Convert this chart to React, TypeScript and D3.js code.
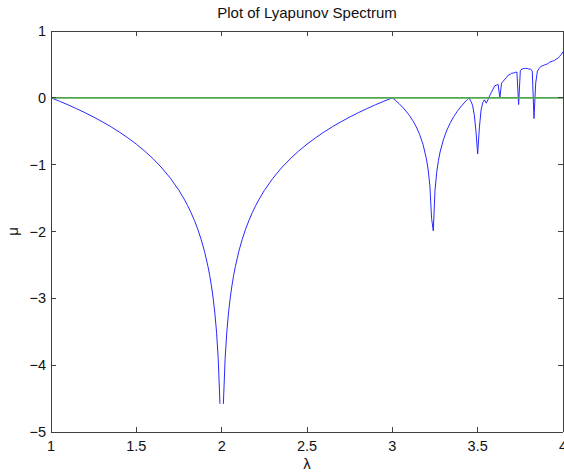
import React, { useEffect } from "react";
import * as d3 from "d3";

// λ sample positions and μ (Lyapunov exponent) values
const lambdaValues: number[] = [
  1.0, 1.05, 1.1, 1.15, 1.2, 1.25, 1.3, 1.35, 1.4, 1.45, 1.5, 1.55, 1.6, 1.65, 1.7, 1.75, 1.78, 1.8, 1.82, 1.84,
  1.86, 1.88, 1.9, 1.92, 1.93, 1.94, 1.95, 1.96, 1.97, 1.98, 1.99, 2.0, 2.01, 2.02, 2.03, 2.04, 2.05, 2.06, 2.07, 2.08,
  2.1, 2.12, 2.14, 2.16, 2.18, 2.2, 2.22, 2.25, 2.3, 2.35, 2.4, 2.45, 2.5, 2.55, 2.6, 2.65, 2.7, 2.75, 2.8, 2.85,
  2.9, 2.95, 3.0, 3.02, 3.04, 3.06, 3.08, 3.1, 3.12, 3.14, 3.16, 3.18, 3.2, 3.21, 3.22, 3.23, 3.24, 3.25, 3.26, 3.27,
  3.28, 3.3, 3.32, 3.34, 3.36, 3.38, 3.4, 3.42, 3.44, 3.45, 3.46, 3.47, 3.48, 3.49, 3.5, 3.51, 3.52, 3.53, 3.54, 3.55,
  3.56, 3.57, 3.58, 3.59, 3.6, 3.61, 3.62, 3.63, 3.64, 3.65, 3.66, 3.67, 3.68, 3.69, 3.7, 3.71, 3.72, 3.73, 3.74, 3.75,
  3.76, 3.77, 3.78, 3.79, 3.8, 3.81, 3.82, 3.83, 3.84, 3.85, 3.86, 3.87, 3.88, 3.89, 3.9, 3.91, 3.92, 3.93, 3.94, 3.95,
  3.96, 3.97, 3.98, 3.99, 4.0,
];

const muValues: (number | null)[] = [
  0, -0.051, -0.105, -0.163, -0.223, -0.288, -0.357, -0.431, -0.511, -0.598, -0.693, -0.799, -0.916, -1.05, -1.204, -1.386, -1.514, -1.609, -1.715, -1.833,
  -1.966, -2.12, -2.303, -2.526, -2.659, -2.813, -2.996, -3.219, -3.507, -3.912, -4.58, null, -4.58, -3.912, -3.507, -3.219, -2.996, -2.813, -2.659, -2.526,
  -2.303, -2.12, -1.966, -1.833, -1.715, -1.609, -1.514, -1.386, -1.204, -1.05, -0.916, -0.799, -0.693, -0.598, -0.511, -0.431, -0.357, -0.288, -0.223, -0.163,
  -0.105, -0.051, 0, -0.042, -0.088, -0.14, -0.198, -0.264, -0.341, -0.433, -0.548, -0.698, -0.916, -1.078, -1.318, -1.804, -1.99, -1.386, -1.115, -0.939,
  -0.809, -0.619, -0.481, -0.372, -0.281, -0.204, -0.137, -0.078, -0.024, 0.0, -0.05, -0.11, -0.25, -0.5, -0.84, -0.45, -0.18, -0.07, -0.03, -0.08,
  -0.03, 0.03, 0.08, 0.13, 0.18, 0.19, 0.2, 0.0, 0.22, 0.25, 0.28, 0.31, 0.34, 0.35, 0.37, 0.37, 0.38, 0.385, -0.1, 0.41,
  0.43, 0.44, 0.44, 0.44, 0.43, 0.43, 0.4, -0.31, 0.22, 0.4, 0.44, 0.47, 0.48, 0.49, 0.5, 0.51, 0.53, 0.54, 0.55, 0.56,
  0.58, 0.59, 0.62, 0.65, 0.69,
];

// reference line μ = 0
const zeroLambda: number[] = [1, 4];
const zeroMu: number[] = [0, 0];

const xTicks: number[] = [1, 1.5, 2, 2.5, 3, 3.5, 4];
const xTickLabels: string[] = ["1", "1.5", "2", "2.5", "3", "3.5", "4"];
const yTicks: number[] = [1, 0, -1, -2, -3, -4, -5];
const yTickLabels: string[] = ["1", "0", "\u22121", "\u22122", "\u22123", "\u22124", "\u22125"];

const titleText = "Plot of Lyapunov Spectrum";
const xLabel = "\u03bb";
const yLabel = "\u03bc";

export default function App() {
  useEffect(() => {
    document.body.style.margin = "0";
  }, []);

  const W = 564;
  const H = 472;
  const left = 51;
  const right = 563;
  const top = 31;
  const bottom = 432;

  const x = d3.scaleLinear().domain([1, 4]).range([left, right]);
  const y = d3.scaleLinear().domain([-5, 1]).range([bottom, top]);

  type P = [number, number | null];
  const pts: P[] = lambdaValues.map((l, i) => [l, muValues[i]]);
  const line = d3
    .line<P>()
    .defined((d) => d[1] !== null)
    .x((d) => x(d[0]))
    .y((d) => y(d[1] as number));
  const zeroPts: P[] = zeroLambda.map((l, i) => [l, zeroMu[i]]);

  const font = "'Liberation Sans', Arial, Helvetica, sans-serif";
  const axisColor = "#404040";
  const tickLen = 5;

  return (
    <svg
      width={W}
      height={H}
      style={{ display: "block", position: "absolute", left: 0, top: 0, background: "#fff" }}
    >
      <rect x={0} y={0} width={W} height={H} fill="#fff" />
      {/* curves */}
      <path d={line(pts) || ""} fill="none" stroke="#2828ff" strokeWidth={1} />
      <path d={line(zeroPts) || ""} fill="none" stroke="#52a852" strokeWidth={1.6} />

      {/* axes box */}
      <g shapeRendering="crispEdges" stroke={axisColor} strokeWidth={1}>
        <line x1={left} x2={right} y1={top} y2={top} />
        <line x1={left} x2={right} y1={bottom} y2={bottom} />
        <line x1={left} x2={left} y1={top} y2={bottom} />
        <line x1={right} x2={right} y1={top} y2={bottom} />
        {xTicks.map((t) => (
          <g key={"xt" + t}>
            <line x1={x(t)} x2={x(t)} y1={bottom} y2={bottom - tickLen} />
            <line x1={x(t)} x2={x(t)} y1={top} y2={top + tickLen} />
          </g>
        ))}
        {yTicks.map((t) => (
          <g key={"yt" + t}>
            <line x1={left} x2={left + tickLen} y1={y(t)} y2={y(t)} />
            <line x1={right} x2={right - tickLen} y1={y(t)} y2={y(t)} />
          </g>
        ))}
      </g>

      {/* tick labels */}
      <g fontFamily={font} fontSize={14.5} fill="#111">
        {xTicks.map((t, i) => (
          <text key={"xl" + t} x={x(t)} y={bottom + 19} textAnchor="middle">
            {xTickLabels[i]}
          </text>
        ))}
        {yTicks.map((t, i) => (
          <text key={"yl" + t} x={left - 5} y={y(t) + 5} textAnchor="end">
            {yTickLabels[i]}
          </text>
        ))}
      </g>

      {/* title and axis labels */}
      <text x={(left + right) / 2} y={18} textAnchor="middle" fontFamily={font} fontSize={15} fill="#111">
        {titleText}
      </text>
      <text x={(left + right) / 2} y={469} textAnchor="middle" fontFamily={font} fontSize={15} fill="#111">
        {xLabel}
      </text>
      <text
        x={0}
        y={0}
        transform={`translate(18, ${(top + bottom) / 2}) rotate(-90)`}
        textAnchor="middle"
        fontFamily={font}
        fontSize={15}
        fill="#111"
      >
        {yLabel}
      </text>
    </svg>
  );
}
